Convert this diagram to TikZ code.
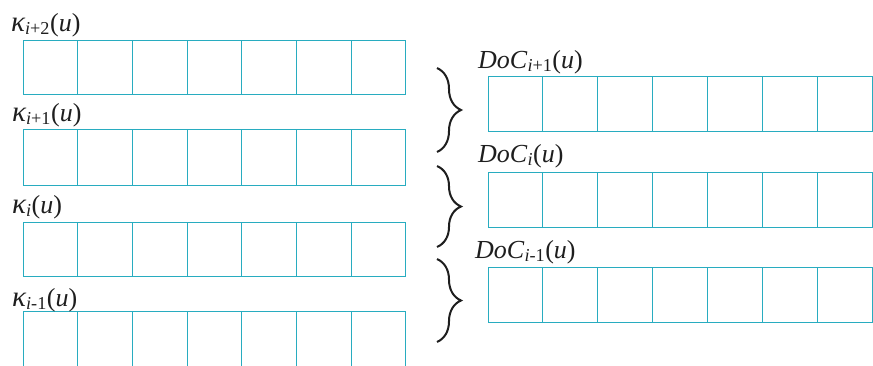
\documentclass[tikz,border=0pt]{standalone}
\usepackage{fontspec}
\setmainfont{Liberation Serif}
\usetikzlibrary{decorations.pathreplacing}
\definecolor{cellc}{RGB}{40,172,192}
\definecolor{txtc}{RGB}{30,30,30}
\newcommand{\kapl}[2]{\textit{\scalebox{1.12}{κ}}\textsubscript{\textit{#1}#2}(\textit{u})}
\newcommand{\docl}[2]{\textit{DoC}\textsubscript{\textit{#1}#2}(\textit{u})}
\begin{document}
\begin{tikzpicture}[x=1pt,y=-1pt,
  cellbox/.style={draw=cellc, line width=0.9pt, inner sep=0pt, outer sep=0pt},
  lbl/.style={anchor=base west, inner sep=0pt, text=txtc, font=\fontsize{26}{30}\selectfont},
  bracestyle/.style={draw=txtc, line width=2pt, decorate, decoration={brace, amplitude=24pt}}]
\useasboundingbox (0,0) rectangle (873,365);
\clip (0,0) rectangle (873,365);
% left rows: top y, height
\foreach \r/\ty/\h in {1/40/54, 2/129/56, 3/222/54, 4/311/60}{
  \foreach \c in {1,...,7}{
    \node[cellbox, minimum width=54.7pt, minimum height=\h pt] (L\r-\c)
      at ({23+54.7*(\c-0.5)}, {\ty+\h/2}) {};
  }
}
% right rows
\foreach \r/\ty in {1/76, 2/172, 3/267}{
  \foreach \c in {1,...,7}{
    \node[cellbox, minimum width=54.9pt, minimum height=55pt] (R\r-\c)
      at ({488+54.9*(\c-0.5)}, {\ty+27.5}) {};
  }
}
% labels
\node[lbl] (k1) at (11,31) {\kapl{i}{+2}};
\node[lbl] (k2) at (12,121) {\kapl{i}{+1}};
\node[lbl] (k3) at (12,213) {\kapl{i}{}};
\node[lbl] (k4) at (12,306) {\kapl{i}{-1}};
\node[lbl] (d1) at (478,68) {\docl{i}{+1}};
\node[lbl] (d2) at (478,162) {\docl{i}{}};
\node[lbl] (d3) at (475,258) {\docl{i}{-1}};
% braces
\coordinate (b1t) at (437,68);  \coordinate (b1b) at (437,152);
\coordinate (b2t) at (437,166); \coordinate (b2b) at (437,247);
\coordinate (b3t) at (437,259); \coordinate (b3b) at (437,342);
\draw[bracestyle] (b1t) -- (b1b);
\draw[bracestyle] (b2t) -- (b2b);
\draw[bracestyle] (b3t) -- (b3b);
\end{tikzpicture}
\end{document}
